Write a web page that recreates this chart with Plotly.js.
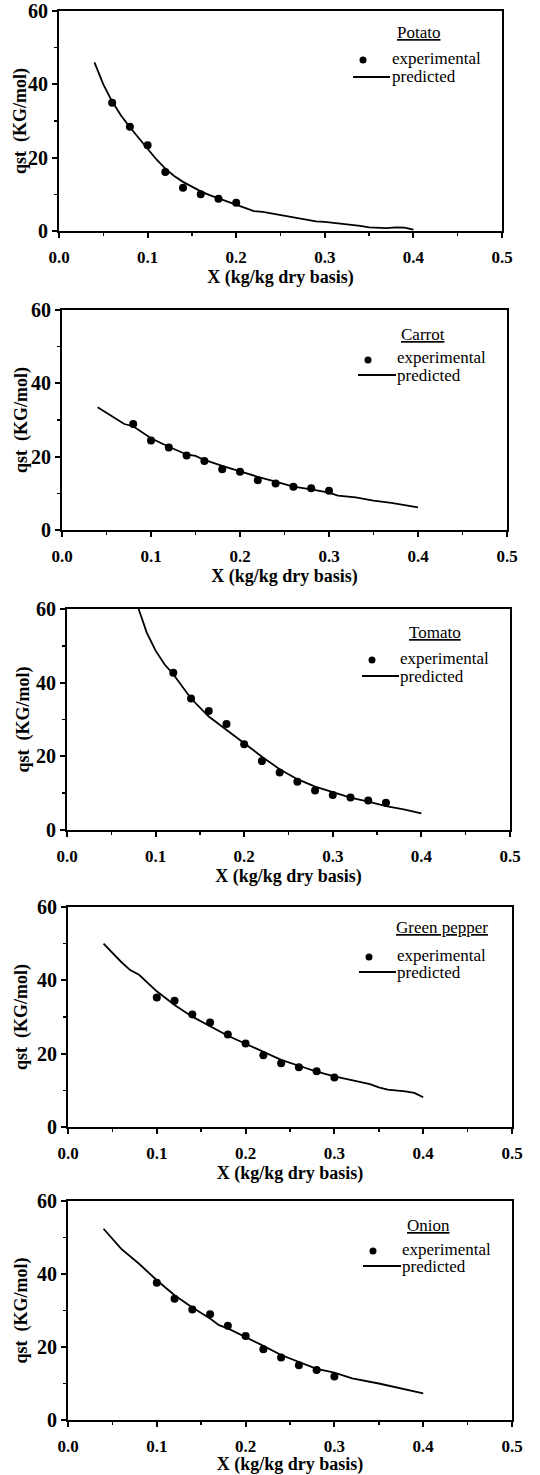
<!DOCTYPE html>
<html>
<head>
<meta charset="utf-8">
<script src="https://cdn.plot.ly/plotly-3.0.1.min.js"></script>
<style>
  html, body { margin: 0; padding: 0; background: #fff; }
  #chart { width: 540px; height: 1475px; }
</style>
</head>
<body>
<div id="chart"></div>
<script>
// ---------------- DATA ----------------
const cropNames = ['Potato', 'Carrot', 'Tomato', 'Green pepper', 'Onion'];
const xTickLabels = ['0.0', '0.1', '0.2', '0.3', '0.4', '0.5'];
const yTickLabels = ['0', '20', '40', '60'];

const potatoExpX = [0.06, 0.08, 0.10, 0.12, 0.14, 0.16, 0.18, 0.20];
const potatoExpY = [35.0, 28.4, 23.4, 16.1, 11.8, 10.0, 8.8, 7.7];
const potatoPredX = [0.04, 0.05, 0.06, 0.07, 0.08, 0.09, 0.10, 0.11, 0.12, 0.13, 0.14, 0.15, 0.16, 0.17, 0.18, 0.19, 0.20, 0.21, 0.22, 0.23, 0.24, 0.25, 0.26, 0.27, 0.28, 0.29, 0.30, 0.32, 0.34, 0.35, 0.36, 0.37, 0.38, 0.39, 0.40];
const potatoPredY = [46.0, 40.0, 35.3, 31.5, 28.3, 25.3, 22.4, 19.5, 17.0, 15.0, 13.4, 12.0, 10.8, 9.8, 8.9, 8.0, 7.2, 6.3, 5.4, 5.2, 4.8, 4.3, 3.9, 3.4, 3.0, 2.6, 2.5, 2.0, 1.4, 1.0, 0.9, 0.8, 1.0, 0.9, 0.4];

const carrotExpX = [0.08, 0.10, 0.12, 0.14, 0.16, 0.18, 0.20, 0.22, 0.24, 0.26, 0.28, 0.30];
const carrotExpY = [28.9, 24.4, 22.5, 20.3, 18.8, 16.6, 15.9, 13.6, 12.7, 11.8, 11.4, 10.7];
const carrotPredX = [0.04, 0.06, 0.07, 0.08, 0.10, 0.12, 0.14, 0.15, 0.16, 0.18, 0.20, 0.22, 0.24, 0.26, 0.28, 0.30, 0.31, 0.33, 0.35, 0.37, 0.40];
const carrotPredY = [33.5, 30.4, 28.9, 28.3, 25.0, 22.7, 20.6, 20.2, 19.1, 17.5, 15.9, 14.5, 13.2, 11.8, 11.1, 10.2, 9.4, 8.9, 8.0, 7.4, 6.2];

const tomatoExpX = [0.12, 0.14, 0.16, 0.18, 0.20, 0.22, 0.24, 0.26, 0.28, 0.30, 0.32, 0.34, 0.36];
const tomatoExpY = [42.7, 35.7, 32.3, 28.8, 23.3, 18.7, 15.6, 13.1, 10.7, 9.5, 8.8, 8.0, 7.4];
const tomatoPredX = [0.08, 0.09, 0.10, 0.11, 0.12, 0.14, 0.16, 0.18, 0.20, 0.22, 0.24, 0.26, 0.28, 0.30, 0.32, 0.34, 0.36, 0.38, 0.40];
const tomatoPredY = [60.6, 53.6, 48.7, 45.0, 42.3, 35.7, 30.8, 27.1, 23.5, 19.9, 16.5, 13.8, 11.8, 10.4, 8.8, 7.7, 6.5, 5.6, 4.5];

const pepperExpX = [0.10, 0.12, 0.14, 0.16, 0.18, 0.20, 0.22, 0.24, 0.26, 0.28, 0.30];
const pepperExpY = [35.3, 34.4, 30.7, 28.5, 25.2, 22.8, 19.6, 17.4, 16.3, 15.2, 13.5];
const pepperPredX = [0.04, 0.05, 0.06, 0.07, 0.08, 0.10, 0.12, 0.14, 0.16, 0.18, 0.20, 0.22, 0.24, 0.26, 0.28, 0.30, 0.32, 0.34, 0.35, 0.36, 0.38, 0.39, 0.40];
const pepperPredY = [50.0, 47.5, 45.0, 42.8, 41.5, 37.0, 33.3, 30.1, 27.4, 24.9, 22.7, 20.6, 18.3, 16.7, 15.1, 13.8, 12.7, 11.7, 10.8, 10.2, 9.7, 9.3, 8.1];

const onionExpX = [0.10, 0.12, 0.14, 0.16, 0.18, 0.20, 0.22, 0.24, 0.26, 0.28, 0.30];
const onionExpY = [37.6, 33.2, 30.3, 29.0, 25.8, 23.0, 19.4, 17.1, 15.0, 13.7, 11.9];
const onionPredX = [0.04, 0.06, 0.08, 0.10, 0.12, 0.14, 0.16, 0.17, 0.18, 0.20, 0.22, 0.24, 0.26, 0.28, 0.30, 0.32, 0.35, 0.38, 0.40];
const onionPredY = [52.4, 46.9, 42.8, 38.3, 34.2, 30.8, 27.8, 26.0, 25.1, 22.8, 20.3, 17.8, 15.8, 14.0, 13.0, 11.4, 10.0, 8.5, 7.3];

const expXs = [potatoExpX, carrotExpX, tomatoExpX, pepperExpX, onionExpX];
const expYs = [potatoExpY, carrotExpY, tomatoExpY, pepperExpY, onionExpY];
const predXs = [potatoPredX, carrotPredX, tomatoPredX, pepperPredX, onionPredX];
const predYs = [potatoPredY, carrotPredY, tomatoPredY, pepperPredY, onionPredY];

const legendExp = 'experimental';
const legendPred = 'predicted';
const xTitle = 'X (kg/kg dry basis)';
const yTitle = 'qst&nbsp;&nbsp;(KG/mol)';

// ---------------- LAYOUT (pixel boxes) ----------------
const W = 540, H = 1475;
const boxes = [
  {l: 59, r: 502, t: 11,   b: 231},
  {l: 62, r: 507, t: 310,  b: 530},
  {l: 67, r: 510, t: 609,  b: 830},
  {l: 68, r: 512, t: 907,  b: 1127},
  {l: 68, r: 512, t: 1201, b: 1420}
];
const legs = [
  {tx: 418, ty: 33,   mx: 363, my: 60,   txt: 390, py: 77,   lx0: 353, lx1: 390},
  {tx: 423, ty: 335,  mx: 368, my: 360,  txt: 395, py: 375,  lx0: 358, lx1: 396},
  {tx: 435, ty: 632,  mx: 372, my: 660,  txt: 398, py: 676,  lx0: 362, lx1: 399},
  {tx: 442, ty: 927,  mx: 369, my: 957,  txt: 395, py: 972,  lx0: 359, lx1: 396},
  {tx: 428, ty: 1225, mx: 373, my: 1251, txt: 400, py: 1266, lx0: 363, lx1: 401}
];
const yTitleX = [20, 22, 23, 21, 21];

const FONT = 'Liberation Serif';
const fx = v => v / W;
const fy = v => 1 - v / H;

const traces = [];
const layout = {
  width: W, height: H,
  margin: {l: 0, r: 0, t: 0, b: 0},
  paper_bgcolor: '#fff', plot_bgcolor: 'rgba(0,0,0,0)',
  showlegend: false,
  font: {family: FONT, color: '#000', size: 16},
  annotations: [], shapes: []
};

for (let i = 0; i < 5; i++) {
  const sfx = i === 0 ? '' : String(i + 1);
  const xa = 'x' + sfx, ya = 'y' + sfx;
  traces.push({
    type: 'scatter', mode: 'lines', x: predXs[i], y: predYs[i],
    xaxis: xa, yaxis: ya, line: {color: '#000', width: 1.8}, name: legendPred, hoverinfo: 'skip'
  });
  traces.push({
    type: 'scatter', mode: 'markers', x: expXs[i], y: expYs[i],
    xaxis: xa, yaxis: ya, marker: {color: '#000', size: 8, symbol: 'circle'}, name: legendExp, cliponaxis: false
  });
  const b = boxes[i];
  layout['xaxis' + sfx] = {
    domain: [fx(b.l), fx(b.r)], anchor: ya, range: [0, 0.5],
    tickmode: 'array', tickvals: [0, 0.1, 0.2, 0.3, 0.4, 0.5], ticktext: xTickLabels,
    ticks: 'outside', ticklen: 5, tickwidth: 2, tickcolor: '#000',
    minor: {tickmode: 'array', tickvals: [0.05, 0.15, 0.25, 0.35, 0.45], ticks: 'outside', ticklen: 3, tickwidth: 1.5, tickcolor: '#000', showgrid: false},
    ticklabelstandoff: 5,
    showline: true, linecolor: '#000', linewidth: 2, mirror: true,
    showgrid: false, zeroline: false,
    tickfont: {family: FONT, size: 17, weight: 'bold', color: '#000'},
    title: {text: xTitle, font: {family: FONT, size: 18, weight: 'bold', color: '#000'}, standoff: 3}
  };
  layout['yaxis' + sfx] = {
    domain: [fy(b.b), fy(b.t)], anchor: xa, range: [0, 60],
    tickmode: 'array', tickvals: [0, 20, 40, 60], ticktext: yTickLabels,
    ticks: 'outside', ticklen: 5, tickwidth: 2, tickcolor: '#000',
    minor: {tickmode: 'array', tickvals: [10, 30, 50], ticks: 'outside', ticklen: 3, tickwidth: 1.5, tickcolor: '#000', showgrid: false},
    showline: true, linecolor: '#000', linewidth: 2, mirror: true,
    showgrid: false, zeroline: false,
    tickfont: {family: FONT, size: 20, weight: 'bold', color: '#000'}
  };
  layout.annotations.push({
    xref: 'paper', yref: 'paper', x: fx(yTitleX[i]), y: fy((b.t + b.b) / 2), xanchor: 'center', yanchor: 'middle',
    textangle: -90, text: yTitle, showarrow: false, font: {family: FONT, size: 18, weight: 'bold', color: '#000'}
  });
  const g = legs[i];
  layout.annotations.push({
    xref: 'paper', yref: 'paper', x: fx(g.tx), y: fy(g.ty), xanchor: 'center', yanchor: 'middle',
    text: '<u>' + cropNames[i] + '</u>', showarrow: false, font: {family: FONT, size: 17, color: '#000'}
  });
  layout.annotations.push({
    xref: 'paper', yref: 'paper', x: fx(g.txt), y: fy(g.my - 2), xanchor: 'left', yanchor: 'middle',
    text: legendExp, showarrow: false, font: {family: FONT, size: 17, color: '#000'}
  });
  layout.annotations.push({
    xref: 'paper', yref: 'paper', x: fx(g.txt), y: fy(g.py), xanchor: 'left', yanchor: 'middle',
    text: legendPred, showarrow: false, font: {family: FONT, size: 17, color: '#000'}
  });
  layout.shapes.push({
    type: 'circle', xref: 'paper', yref: 'paper',
    x0: fx(g.mx - 3.5), x1: fx(g.mx + 3.5), y0: fy(g.my + 3.5), y1: fy(g.my - 3.5),
    fillcolor: '#000', line: {color: '#000', width: 0}
  });
  layout.shapes.push({
    type: 'line', xref: 'paper', yref: 'paper',
    x0: fx(g.lx0), x1: fx(g.lx1), y0: fy(g.py), y1: fy(g.py),
    line: {color: '#000', width: 1.8}
  });
}

Plotly.newPlot('chart', traces, layout, {displayModeBar: false, staticPlot: true});
</script>
</body>
</html>
